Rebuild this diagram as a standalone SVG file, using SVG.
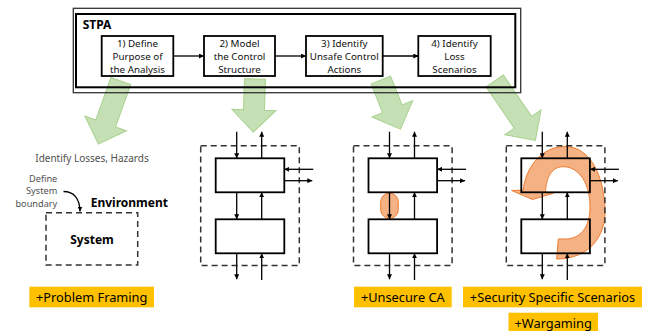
<svg xmlns="http://www.w3.org/2000/svg" xmlns:xlink="http://www.w3.org/1999/xlink" width="652" height="331" viewBox="0 0 652 331">
<style>
text{font-family:"Noto Sans","Open Sans",sans-serif}
.step{fill:#fff;stroke:#000;stroke-width:1.8}
.stxt{font-size:9.8px;fill:#111;text-anchor:middle}
.ln{stroke:#000;stroke-width:1.3;fill:none;marker-end:url(#ah)}
.dash{fill:none;stroke:#333;stroke-width:1.5;stroke-dasharray:6 4}
.bx{fill:none;stroke:#000;stroke-width:1.8}
.green{fill:#c5e0b4;stroke:#a9d18e;stroke-width:1}
.orange{fill:#f4b183;stroke:#ed7d31;stroke-width:1}
.tag{fill:#ffc000}
.tagt{font-size:12.8px;fill:#000;text-anchor:middle}
.gray{font-size:10px;fill:#505050}
.gs{font-size:9.2px;fill:#505050;text-anchor:end}
.bold{font-size:12px;font-weight:bold;fill:#000}
</style>
<defs>
<marker id="ah" markerUnits="userSpaceOnUse" markerWidth="5" markerHeight="5" refX="5" refY="2.5" orient="auto">
<path d="M0,0 L5,2.5 L0,5 z" fill="#000"/>
</marker>
<g id="cs">
<rect class="dash" x="200.7" y="145.8" width="98.6" height="119.7"/>
<rect class="bx" x="215.7" y="158.3" width="68.6" height="34"/>
<rect class="bx" x="215.7" y="219.3" width="68.6" height="34"/>
<path class="ln" d="M236.7,131.7 V158.3"/>
<path class="ln" d="M261.7,158.3 V131.7"/>
<path class="ln" d="M236.7,192.3 V219.3"/>
<path class="ln" d="M261.7,219.3 V192.3"/>
<path class="ln" d="M236.7,253.3 V279.3"/>
<path class="ln" d="M261.7,280 V253.3"/>
<path class="ln" d="M313.3,169.3 H284.3"/>
<path class="ln" d="M284.3,180.7 H312.3"/>
</g>
</defs>

<g id="green-arrows">
<polygon class="green" transform="translate(120.8,81) rotate(19.6)" points="-10.5,0 10.5,0 10.5,45 22,45 0,67 -22,45 -10.5,45"/>
<polygon class="green" transform="translate(255,79) rotate(1.9)" points="-10.5,0 10.5,0 10.5,31 22,31 0,53 -22,31 -10.5,31"/>
<polygon class="green" transform="translate(380.8,80) rotate(-21.8)" points="-10.5,0 10.5,0 10.5,31 22,31 0,53 -22,31 -10.5,31"/>
<polygon class="green" transform="translate(494.7,81) rotate(-34.4)" points="-10.5,0 10.5,0 10.5,50 22,50 0,72 -22,50 -10.5,50"/>
</g>

<g id="stpa">
<rect x="73.3" y="8.3" width="447.4" height="84.4" fill="none" stroke="#333" stroke-width="1.3"/>
<rect x="76" y="14" width="439.3" height="73.3" fill="none" stroke="#000" stroke-width="2"/>
<text x="82.7" y="29.3" class="bold">STPA</text>
</g>

<g id="step1">
<rect class="step" x="101.7" y="36" width="71.6" height="40"/>
<text class="stxt" x="137.5" y="47">1) Define</text>
<text class="stxt" x="137.5" y="60">Purpose of</text>
<text class="stxt" x="137.5" y="73">the Analysis</text>
</g>
<g id="step2">
<rect class="step" x="204" y="36" width="71" height="40"/>
<text class="stxt" x="239.5" y="47">2) Model</text>
<text class="stxt" x="239.5" y="60">the Control</text>
<text class="stxt" x="239.5" y="73">Structure</text>
</g>
<g id="step3">
<rect class="step" x="306" y="36" width="76.7" height="40"/>
<text class="stxt" x="344.3" y="47">3) Identify</text>
<text class="stxt" x="344.3" y="60">Unsafe Control</text>
<text class="stxt" x="344.3" y="73">Actions</text>
</g>
<g id="step4">
<rect class="step" x="418.3" y="36" width="72.4" height="40"/>
<text class="stxt" x="454.5" y="47">4) Identify</text>
<text class="stxt" x="454.5" y="60">Loss</text>
<text class="stxt" x="454.5" y="73">Scenarios</text>
</g>

<g id="connectors">
<path class="ln" d="M173.3,56 H204"/>
<path class="ln" d="M275,56 H306"/>
<path class="ln" d="M382.7,56 H418.3"/>
<path class="ln" d="M63.5,191.5 C74,191.5 80,199 80,211.5"/>
</g>

<g id="problem-framing">
<text class="gray" x="92" y="161.5" text-anchor="middle">Identify Losses, Hazards</text>
<text class="gs" x="57.3" y="181.5">Define</text>
<text class="gs" x="57.3" y="194.2">System</text>
<text class="gs" x="57.3" y="206.9">boundary</text>
<text class="bold" x="90.7" y="206.5">Environment</text>
<rect class="dash" x="46" y="212.7" width="91.7" height="52.3"/>
<text class="bold" x="92" y="244" text-anchor="middle">System</text>
</g>

<g id="control-structure">
<use xlink:href="#cs"/>
</g>

<g id="unsecure-ca">
<rect class="orange" x="380.7" y="193.3" width="17.6" height="25" rx="8.5"/>
<use xlink:href="#cs" transform="translate(152.8,0)"/>
</g>

<g id="loss-scenarios">
<path class="orange" d="M556.7,259 C590,259 606,235 605,210 C604,175 590,146.5 565,146.5 C540,146.5 525,170 523.3,190 L511.7,190.5 L532.5,199.5 L553.3,193.3 L545.5,192.5 C546,177 552,166.7 563.3,166.7 C580,166.7 590,185 590,206.7 C590,228 580,239 565,239 L558.3,239 Z"/>
<use xlink:href="#cs" transform="translate(305.6,0)"/>
</g>

<g id="tags">
<rect class="tag" x="29.3" y="286.7" width="124.7" height="20.6"/>
<text class="tagt" x="91.7" y="302">+Problem Framing</text>
<rect class="tag" x="354" y="286.7" width="97.7" height="20.6"/>
<text class="tagt" x="402.8" y="302">+Unsecure CA</text>
<rect class="tag" x="463" y="286.7" width="179" height="20.6"/>
<text class="tagt" x="552.5" y="302">+Security Specific Scenarios</text>
<rect class="tag" x="508.5" y="312.7" width="89.5" height="21"/>
<text class="tagt" x="553.2" y="328">+Wargaming</text>
</g>
</svg>
